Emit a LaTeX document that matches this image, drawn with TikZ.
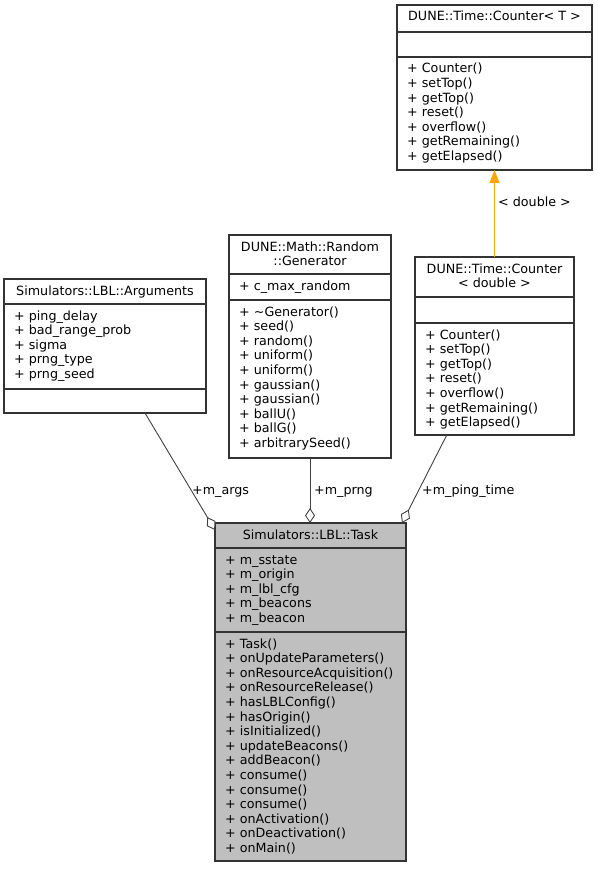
\documentclass[tikz,border=0pt]{standalone}
\usepackage{fontspec}
\setmainfont{DejaVu Sans}
\usetikzlibrary{arrows.meta,calc}
\definecolor{edgecol}{HTML}{404040}
\definecolor{framecol}{HTML}{333333}
\definecolor{taskfill}{HTML}{BFBFBF}
\definecolor{inhcol}{HTML}{FFA500}
\tikzset{
  classbox/.style={draw=framecol, line width=1.1pt, fill=white, inner sep=0pt, outer sep=0pt, anchor=north west},
  sepline/.style={draw=framecol, line width=1.1pt},
  txt/.style={inner sep=0pt, anchor=base west, font=\fontsize{12.7}{14.6}\selectfont},
  ttl/.style={inner sep=0pt, anchor=base, font=\fontsize{12.7}{14.6}\selectfont},
  agg/.style={draw=edgecol, line width=0.9pt, -{Diamond[length=15pt,width=10pt,fill=white]}},
  inherit/.style={draw=inhcol, line width=1.2pt, -{Triangle[length=13pt,width=10pt,fill=inhcol]}},
}
\begin{document}
\begin{tikzpicture}[x=1pt,y=-1pt]
\useasboundingbox (0,0) rectangle (597,869);

% ---------- DUNE::Time::Counter< T >
\node[classbox, minimum width=195pt, minimum height=165pt] (ct) at (397,5) {};
\draw[sepline] ([yshift=-27pt]ct.north west) -- ([yshift=-27pt]ct.north east);
\draw[sepline] ([yshift=-52pt]ct.north west) -- ([yshift=-52pt]ct.north east);
\node[ttl] (ctt) at (494.5,21) {DUNE::Time::Counter< T >};
\foreach \t [count=\i from 0] in {+ Counter(),+ setTop(),+ getTop(),+ reset(),+ overflow(),+ getRemaining(),+ getElapsed()}
  \node[txt] (ctm\i) at (407,{73+14.6*\i}) {\t};

% ---------- DUNE::Time::Counter< double >
\node[classbox, minimum width=159pt, minimum height=178pt] (cd) at (415,257) {};
\draw[sepline] ([yshift=-40pt]cd.north west) -- ([yshift=-40pt]cd.north east);
\draw[sepline] ([yshift=-66pt]cd.north west) -- ([yshift=-66pt]cd.north east);
\node[ttl] (cdt1) at (494.5,273) {DUNE::Time::Counter};
\node[ttl] (cdt2) at (494.5,287.6) {< double >};
\foreach \t [count=\i from 0] in {+ Counter(),+ setTop(),+ getTop(),+ reset(),+ overflow(),+ getRemaining(),+ getElapsed()}
  \node[txt] (cdm\i) at (425,{339+14.6*\i}) {\t};

% ---------- Simulators::LBL::Arguments
\node[classbox, minimum width=202pt, minimum height=134pt] (args) at (4,279) {};
\draw[sepline] ([yshift=-25pt]args.north west) -- ([yshift=-25pt]args.north east);
\draw[sepline] ([yshift=-110pt]args.north west) -- ([yshift=-110pt]args.north east);
\node[ttl] (argst) at (105,295) {Simulators::LBL::Arguments};
\foreach \t [count=\i from 0] in {+ ping\_delay,+ bad\_range\_prob,+ sigma,+ prng\_type,+ prng\_seed}
  \node[txt] (argsa\i) at (14,{320+14.6*\i}) {\t};

% ---------- DUNE::Math::Random::Generator
\node[classbox, minimum width=162pt, minimum height=223pt] (gen) at (229,235) {};
\draw[sepline] ([yshift=-39pt]gen.north west) -- ([yshift=-39pt]gen.north east);
\draw[sepline] ([yshift=-65pt]gen.north west) -- ([yshift=-65pt]gen.north east);
\node[ttl] (gent1) at (310,251) {DUNE::Math::Random};
\node[ttl] (gent2) at (310,265.6) {::Generator};
\node[txt] (gena0) at (239,290) {+ c\_max\_random};
\foreach \t [count=\i from 0] in {+ \textasciitilde Generator(),+ seed(),+ random(),+ uniform(),+ uniform(),+ gaussian(),+ gaussian(),+ ballU(),+ ballG(),+ arbitrarySeed()}
  \node[txt] (genm\i) at (239,{316+14.6*\i}) {\t};

% ---------- Simulators::LBL::Task
\node[classbox, fill=taskfill, minimum width=191pt, minimum height=338pt] (task) at (215,523) {};
\draw[sepline] ([yshift=-25pt]task.north west) -- ([yshift=-25pt]task.north east);
\draw[sepline] ([yshift=-109pt]task.north west) -- ([yshift=-109pt]task.north east);
\node[ttl] (taskt) at (310.5,539) {Simulators::LBL::Task};
\foreach \t [count=\i from 0] in {+ m\_sstate,+ m\_origin,+ m\_lbl\_cfg,+ m\_beacons,+ m\_beacon}
  \node[txt] (taska\i) at (225,{564+14.6*\i}) {\t};
\foreach \t [count=\i from 0] in {+ Task(),+ onUpdateParameters(),+ onResourceAcquisition(),+ onResourceRelease(),+ hasLBLConfig(),+ hasOrigin(),+ isInitialized(),+ updateBeacons(),+ addBeacon(),+ consume(),+ consume(),+ consume(),+ onActivation(),+ onDeactivation(),+ onMain()}
  \node[txt] (taskm\i) at (225,{648+14.6*\i}) {\t};

% ---------- connectors
\draw[inherit] (cd.north) -- (ct.south);
\node[txt] (lbldouble) at (498,206) {< double >};

\draw[agg] ($(args.south west)!0.698!(args.south east)$) -- ($(task.north west)+(0,7)$);
\node[txt] (lblargs) at (192,494.5) {+m\_args};

\draw[agg] (gen.south) -- (gen.south |- task.north);
\node[txt] (lblprng) at (314,494.5) {+m\_prng};

\draw[agg] ($(cd.south west)!0.2!(cd.south east)$) -- ($(task.north east)+(-4,0)$);
\node[txt] (lblping) at (422,494.5) {+m\_ping\_time};
\end{tikzpicture}
\end{document}
